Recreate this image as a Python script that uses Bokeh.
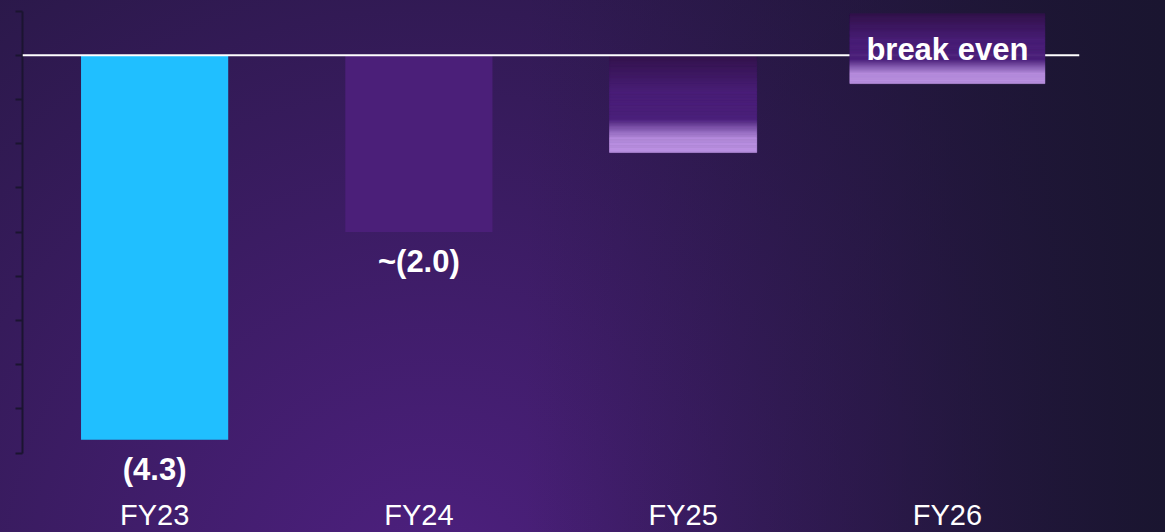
import numpy as np
from bokeh.plotting import figure
from bokeh.models import FixedTicker, Span, FactorRange, Range1d
from bokeh.core.properties import value
from bokeh.embed import file_html
from bokeh.resources import INLINE

# ---------------- data ----------------
categories = ["FY23", "FY24", "FY25", "FY26"]
bar_values = [-4.35, -2.0, -1.1, 0.0]
value_labels = ["(4.3)", "~(2.0)", "", "break even"]
y_ticks = [0.5, 0.0, -0.5, -1.0, -1.5, -2.0, -2.5, -3.0, -3.5, -4.0, -4.5]

# ---------------- layout / style ----------------
W, H = 1165, 532
PX_PER_UNIT = 88.4
ZERO_PX = 54.8
BAR_W = 0.557
BOX_W = 0.738
BOX_TOP, BOX_BOTTOM = 0.47, -0.32
LABEL_OFFSET = 0.33
CAT_LABEL_Y = (ZERO_PX - 514) / PX_PER_UNIT
FONT = "Liberation Sans"
AXIS_COLOR = "#1b1430"
solid_colors = {"FY23": "#20bfff", "FY24": "#4b1f79"}
grad_stops = [
    (0.00, (0x33, 0x13, 0x4c)),
    (0.38, (0x4a, 0x1f, 0x78)),
    (0.66, (0x4c, 0x20, 0x7c)),
    (0.76, (0x86, 0x5c, 0xb3)),
    (0.86, (0xb8, 0x8e, 0xdf)),
    (1.00, (0xbb, 0x92, 0xe2)),
]

p = figure(
    width=W, height=H,
    x_range=FactorRange(factors=categories, range_padding=0),
    y_range=Range1d(start=-(H - ZERO_PX) / PX_PER_UNIT, end=ZERO_PX / PX_PER_UNIT),
    x_axis_location=None, y_axis_location="left",
    output_backend="svg", toolbar_location=None,
    min_border=0, min_border_left=22, min_border_right=86,
    outline_line_color=None,
    background_fill_alpha=0, border_fill_alpha=0,
)
p.styles = {
    "background": (
        "linear-gradient(to right, rgba(26,21,48,0) 45%, rgba(26,21,48,0.45) 75%, rgba(26,21,48,1) 100%), "
        "radial-gradient(circle 1100px at 430px 600px, #4e2080, #1a1530)"
    ),
}
p.grid.grid_line_color = None

ax = p.yaxis[0]
ax.ticker = FixedTicker(ticks=y_ticks)
ax.bounds = (min(y_ticks), max(y_ticks))
ax.axis_line_color = AXIS_COLOR
ax.axis_line_width = 2
ax.major_tick_line_color = AXIS_COLOR
ax.major_tick_line_width = 2
ax.major_tick_in = 0
ax.major_tick_out = 7
ax.minor_tick_line_color = None
ax.major_label_text_color = None
ax.major_label_text_font_size = "2px"
ax.major_label_standoff = 0

# solid bars
solid_cats = [c for c in categories if c in solid_colors]
solid_vals = [v for c, v in zip(categories, bar_values) if c in solid_colors]
p.vbar(x=solid_cats, top=0, bottom=solid_vals, width=BAR_W,
       fill_color=[solid_colors[c] for c in solid_cats], line_color=None)


def grad_colors(n):
    t = (np.arange(n) + 0.5) / n
    pos = [s[0] for s in grad_stops]
    chans = [np.interp(t, pos, [s[1][k] for s in grad_stops]) for k in range(3)]
    return ["#%02x%02x%02x" % tuple(int(round(c[i])) for c in chans) for i in range(n)]


def gradient_bar(cat, top, bottom, width, level="glyph", n=80):
    edges = np.linspace(top, bottom, n + 1)
    cols = grad_colors(n)
    p.vbar(x=[cat] * n, top=edges[:-1], bottom=edges[1:], width=width,
           fill_color=cols, line_color=cols, line_width=0.6, level=level)


# FY25 gradient bar
gradient_bar(categories[2], 0, bar_values[2], BAR_W)

# zero line
p.add_layout(Span(location=0, dimension="width", line_color="white", line_width=2))

# FY26 break-even box (above the zero line)
gradient_bar(categories[3], BOX_TOP, BOX_BOTTOM, BOX_W, level="overlay")

# value labels under bars
lab_y = [v - LABEL_OFFSET for v in bar_values[:2]]
p.text(x=categories[:2], y=lab_y, text=value_labels[:2], text_font=value(FONT),
       text_font_style="bold", text_font_size="31px", text_color="white",
       text_align="center", text_baseline="middle")

# break-even text
p.text(x=[categories[3]], y=[(BOX_TOP + BOX_BOTTOM) / 2 - 0.01], text=[value_labels[3]],
       text_font=value(FONT), text_font_style="bold", text_font_size="31px",
       text_color="white", text_align="center", text_baseline="middle", level="overlay")

# category labels
p.text(x=categories, y=[CAT_LABEL_Y] * len(categories), text=categories,
       text_font=value(FONT), text_font_size="29px", text_color="white",
       text_align="center", text_baseline="middle")

open("out.html", "w").write(file_html(p, INLINE))
